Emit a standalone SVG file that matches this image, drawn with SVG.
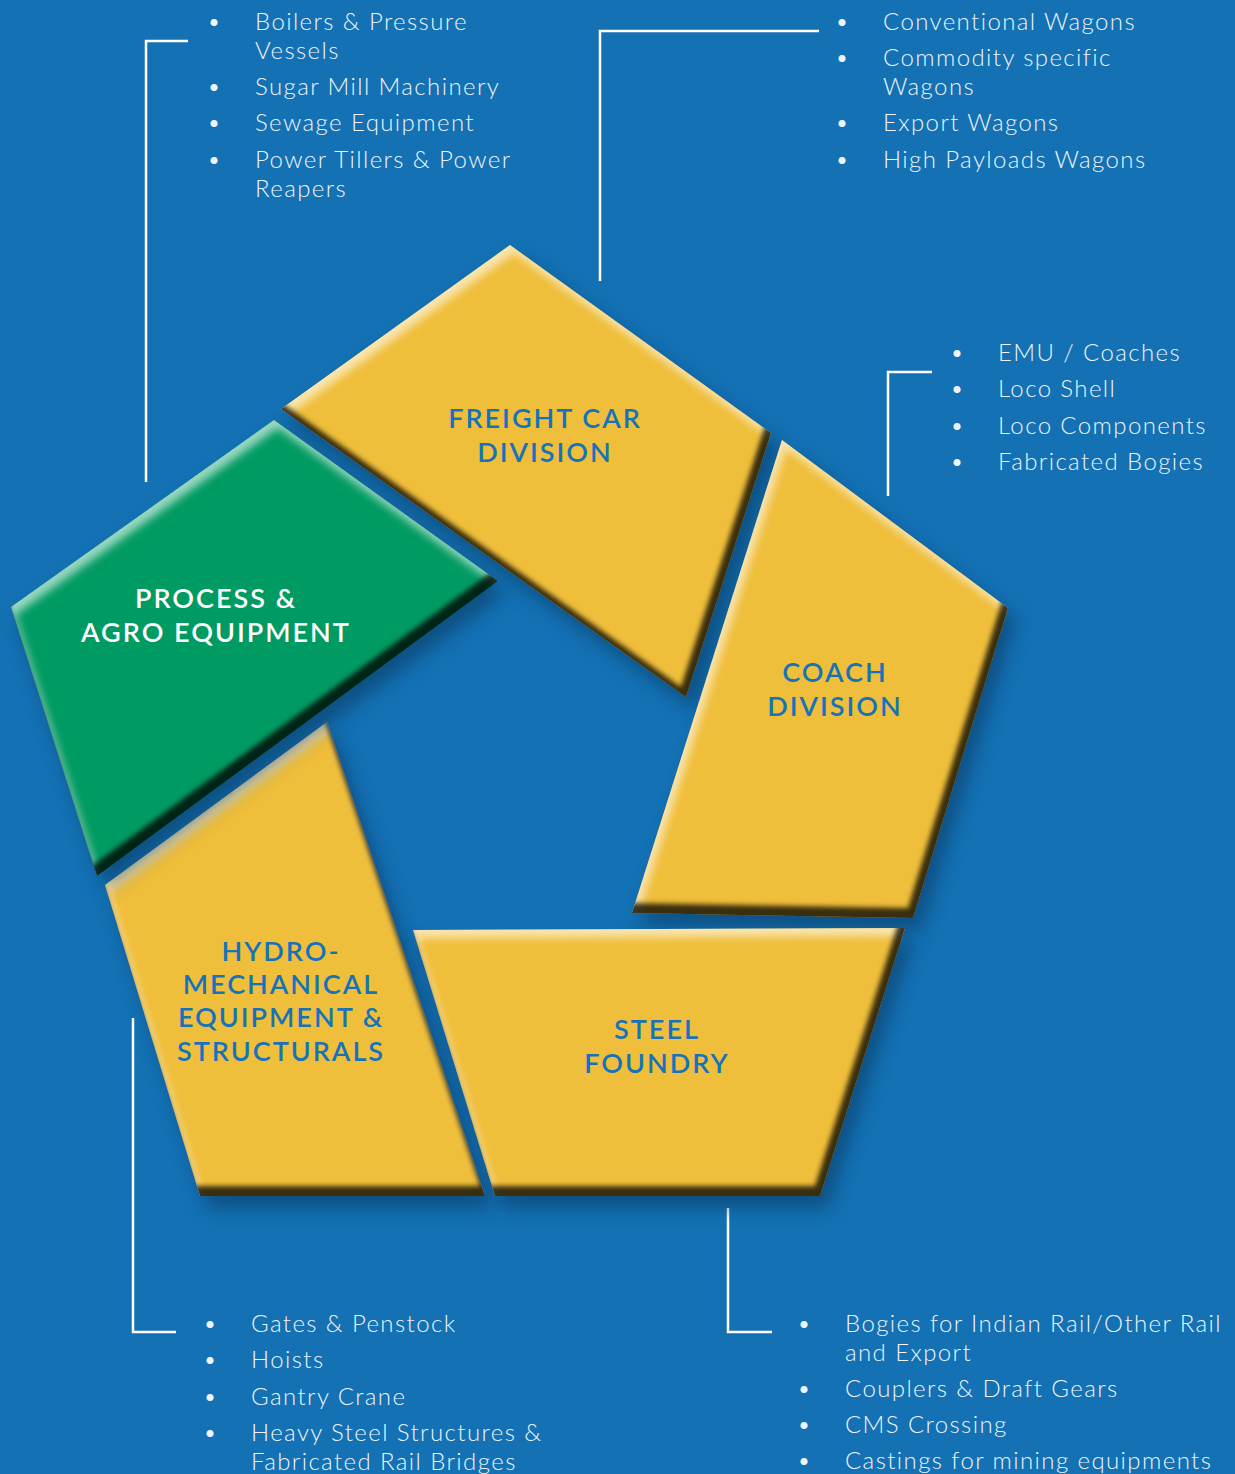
<svg xmlns="http://www.w3.org/2000/svg" width="1235" height="1474" viewBox="0 0 1235 1474">
<defs>
<style>
.list{font-family:Lato,"Noto Sans","Liberation Sans",sans-serif;font-weight:300;font-size:24px;fill:#eef4fa;letter-spacing:1.4px}
.lbl{font-family:Lato,"Noto Sans","Liberation Sans",sans-serif;font-weight:600;font-size:27px;fill:#1673ba;text-anchor:middle;letter-spacing:2px}
.lblw{fill:#ffffff}
.yel{fill:#efbe3a}
.grn{fill:#009b62}
.con{fill:none;stroke:#ffffff;stroke-width:2.5}
</style>
<filter id="bevel" x="-15%" y="-15%" width="135%" height="135%" color-interpolation-filters="sRGB">
  <feGaussianBlur in="SourceAlpha" stdDeviation="9" result="ds"/>
  <feOffset in="ds" dx="8" dy="12" result="dso"/>
  <feFlood flood-color="#0a3a62" flood-opacity="0.6"/>
  <feComposite in2="dso" operator="in" result="shadow"/>
  <feGaussianBlur in="SourceAlpha" stdDeviation="2.5" result="b"/>
  <feOffset in="b" dx="-5" dy="-10" result="o1"/>
  <feComposite in="SourceAlpha" in2="o1" operator="out" result="dark"/>
  <feFlood flood-color="#000000" flood-opacity="0.76"/>
  <feComposite in2="dark" operator="in" result="darkc"/>
  <feGaussianBlur in="SourceAlpha" stdDeviation="4" result="b2"/>
  <feOffset in="b2" dx="4" dy="8" result="o2"/>
  <feComposite in="SourceAlpha" in2="o2" operator="out" result="light"/>
  <feFlood flood-color="#ffffff" flood-opacity="0.6"/>
  <feComposite in2="light" operator="in" result="lightc"/>
  <feMerge>
    <feMergeNode in="shadow"/>
    <feMergeNode in="SourceGraphic"/>
    <feMergeNode in="lightc"/>
    <feMergeNode in="darkc"/>
  </feMerge>
</filter>
</defs>
<rect x="0" y="0" width="1235" height="1474" fill="#1371b4"/>

<g id="connectors">
  <polyline class="con" points="188,41 146,41 146,482"/>
  <polyline class="con" points="819,31 600,31 600,281"/>
  <polyline class="con" points="932,372 888,372 888,496"/>
  <polyline class="con" points="728,1208 728,1332 772,1332"/>
  <polyline class="con" points="133,1018 133,1332 176,1332"/>
</g>

<g id="freight-car-division">
  <polygon class="yel" filter="url(#bevel)" points="510,245 771,433 686,697 281,409"/>
  <text class="lbl" x="545" y="428">FREIGHT CAR</text>
  <text class="lbl" x="545" y="462">DIVISION</text>
</g>

<g id="coach-division">
  <polygon class="yel" filter="url(#bevel)" points="782,440 1008,608 913,918 632,913"/>
  <text class="lbl" x="835" y="682">COACH</text>
  <text class="lbl" x="835" y="716">DIVISION</text>
</g>

<g id="hydro-mechanical">
  <polygon class="yel" filter="url(#bevel)" points="327,722 485,1196 200,1196 105,885"/>
  <text class="lbl" x="281" y="961">HYDRO-</text>
  <text class="lbl" x="281" y="994">MECHANICAL</text>
  <text class="lbl" x="281" y="1027">EQUIPMENT &amp;</text>
  <text class="lbl" x="281" y="1061">STRUCTURALS</text>
</g>

<g id="steel-foundry">
  <polygon class="yel" filter="url(#bevel)" points="413,930 905,928 820,1196 495,1196"/>
  <text class="lbl" x="657" y="1039">STEEL</text>
  <text class="lbl" x="657" y="1073">FOUNDRY</text>
</g>

<g id="process-agro-equipment">
  <polygon class="grn" filter="url(#bevel)" points="274,420 498,581 97,876 11,607"/>
  <text class="lbl lblw" x="216" y="608">PROCESS &amp;</text>
  <text class="lbl lblw" x="216" y="642">AGRO EQUIPMENT</text>
</g>

<g id="list-process">
  <text class="list" x="207" y="30">•</text><text class="list" x="255" y="30">Boilers &amp; Pressure</text>
  <text class="list" x="255" y="59">Vessels</text>
  <text class="list" x="207" y="95">•</text><text class="list" x="255" y="95">Sugar Mill Machinery</text>
  <text class="list" x="207" y="131">•</text><text class="list" x="255" y="131">Sewage Equipment</text>
  <text class="list" x="207" y="168">•</text><text class="list" x="255" y="168">Power Tillers &amp; Power</text>
  <text class="list" x="255" y="197">Reapers</text>
</g>

<g id="list-freight">
  <text class="list" x="835" y="30">•</text><text class="list" x="883" y="30">Conventional Wagons</text>
  <text class="list" x="835" y="66">•</text><text class="list" x="883" y="66">Commodity specific</text>
  <text class="list" x="883" y="95">Wagons</text>
  <text class="list" x="835" y="131">•</text><text class="list" x="883" y="131">Export Wagons</text>
  <text class="list" x="835" y="168">•</text><text class="list" x="883" y="168">High Payloads Wagons</text>
</g>

<g id="list-coach">
  <text class="list" x="950" y="361">•</text><text class="list" x="998" y="361">EMU / Coaches</text>
  <text class="list" x="950" y="397">•</text><text class="list" x="998" y="397">Loco Shell</text>
  <text class="list" x="950" y="434">•</text><text class="list" x="998" y="434">Loco Components</text>
  <text class="list" x="950" y="470">•</text><text class="list" x="998" y="470">Fabricated Bogies</text>
</g>

<g id="list-steel">
  <text class="list" x="797" y="1332">•</text><text class="list" x="845" y="1332">Bogies for Indian Rail/Other Rail</text>
  <text class="list" x="845" y="1361">and Export</text>
  <text class="list" x="797" y="1397">•</text><text class="list" x="845" y="1397">Couplers &amp; Draft Gears</text>
  <text class="list" x="797" y="1433">•</text><text class="list" x="845" y="1433">CMS Crossing</text>
  <text class="list" x="797" y="1469">•</text><text class="list" x="845" y="1469">Castings for mining equipments</text>
</g>

<g id="list-hydro">
  <text class="list" x="203" y="1332">•</text><text class="list" x="251" y="1332">Gates &amp; Penstock</text>
  <text class="list" x="203" y="1368">•</text><text class="list" x="251" y="1368">Hoists</text>
  <text class="list" x="203" y="1405">•</text><text class="list" x="251" y="1405">Gantry Crane</text>
  <text class="list" x="203" y="1441">•</text><text class="list" x="251" y="1441">Heavy Steel Structures &amp;</text>
  <text class="list" x="251" y="1470">Fabricated Rail Bridges</text>
</g>
</svg>
